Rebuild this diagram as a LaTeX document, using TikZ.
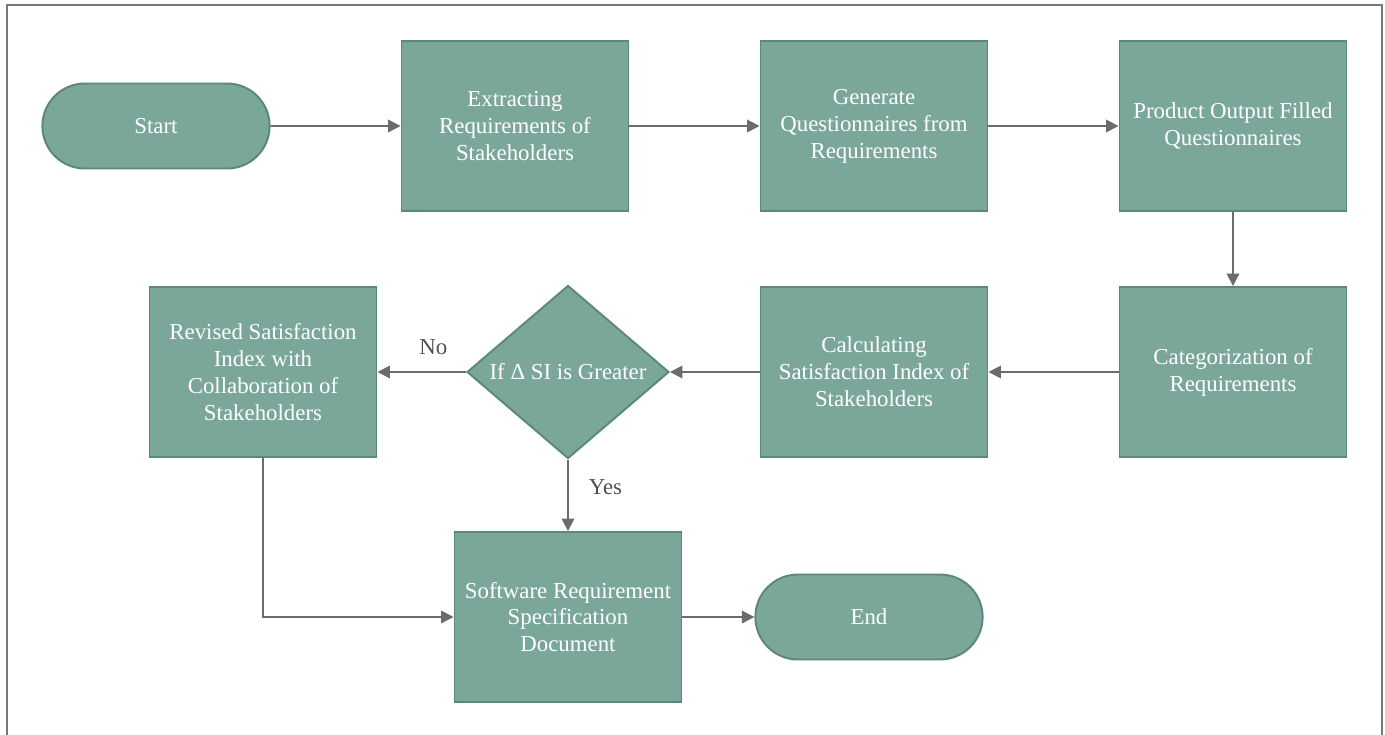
\documentclass[tikz,border=0pt]{standalone}
\usepackage{fontspec}
\setmainfont{Liberation Serif}
\usetikzlibrary{shapes.geometric,shapes.misc,arrows.meta}
\definecolor{boxfill}{RGB}{123,167,154}
\definecolor{boxline}{RGB}{92,136,124}
\definecolor{arrowgray}{RGB}{107,107,107}
\definecolor{labelgray}{RGB}{80,80,80}
\definecolor{framegray}{RGB}{120,120,120}

\begin{document}
\begin{tikzpicture}[node distance={7.18cm}, line width=1.1pt,
  main/.style = {draw=boxline, fill=boxfill, text=white, align=center, minimum width=4.54cm, minimum height=3.4cm, font=\fontsize{13}{15.3}\selectfont},
  term/.style = {main, rounded rectangle, minimum width=4.78cm, minimum height=1.7cm},
  decide/.style = {main, diamond, inner sep=0pt, minimum width=4.04cm, minimum height=3.4cm}]
      \useasboundingbox (0,0) rectangle (27.7,-14.68);
      \draw[framegray] (0.14,-14.8) -- (0.14,-0.1) -- (27.64,-0.1) -- (27.64,-14.8);

      \node[term] (1) at (3.12,-2.52) {Start};
      \node[main] (2) [right of=1] {Extracting\\Requirements of\\Stakeholders};
      \node[main] (3) [right of=2] {Generate\\Questionnaires from\\Requirements};
      \node[main] (4) [right of=3] {Product Output Filled\\Questionnaires};
      \node[main] (5) [below of=4, node distance=4.92cm] {Categorization of\\Requirements};
      \node[main] (6) [left of=5] {Calculating\\Satisfaction Index of\\Stakeholders};
      \node[decide] (7) [left of=6, node distance=6.12cm] {If Δ SI is Greater};
      \node[main] (8) [left of=7, node distance=6.1cm] {Revised Satisfaction\\Index with\\Collaboration of\\Stakeholders};
      \node[main] (9) [below of=7, node distance=4.9cm] {Software Requirement\\Specification\\Document};
      \node[term] (10) [right of=9, node distance=6.02cm] {End};

      \path[arrowgray, -{Triangle[length=0.25cm, width=0.25cm]}, every node/.style={font=\fontsize{13}{15.3}\selectfont, text=labelgray}]
      (1) edge (2)
      (2) edge (3)
      (3) edge (4)
      (4) edge (5)
      (5) edge (6)
      (6) edge (7)
      (7) edge node[above=6pt, pos=0.37] {No} (8)
      (7) edge node[right=8pt, pos=0.39] {Yes} (9)
      (8) edge[to path={|- (\tikztotarget) \tikztonodes}] (9)
      (9) edge (10);
    \end{tikzpicture}
\end{document}
